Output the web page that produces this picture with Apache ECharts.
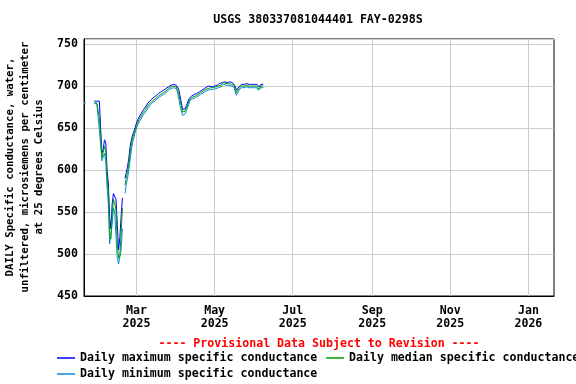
<!DOCTYPE html>
<html>
<head>
<meta charset="utf-8">
<script src="https://cdn.jsdelivr.net/npm/echarts@6/dist/echarts.min.js"></script>
<style>html,body{margin:0;padding:0;background:#fff}#c{width:576px;height:384px}</style>
</head>
<body>
<div id="c"></div>
<script>
// ---- data (daily values starting 2025-01-19) ----
const startDate = [2025, 0, 19];
const maxVals = [
  681, 681, null, null, null, null, null, null, 682, 682,
  682, 683, 682, 650, 620, 625, 636, 632, 600, 585,
  545, 530, 560, 572, 570, 565, 535, 505, 520, 545,
  567, null, 590, 597, 604, 614, 628, 636, 642, 646,
  651, 656, 660, 663, 665, 668, 671, 673, 675, 677,
  680, 682, 683, 685, 686, 687, 688, 690, 691, 692,
  693, 694, 695, 696, 697, 698, 699, 700, 701, 702,
  702, 702, 701, 699, 696, 688, 680, 672, 670, 673,
  677, 681, 685, 687, 688, 689, 690, 690, 691, 692,
  693, 694, 695, 696, 697, 698, 699, 699, 700, 700,
  699, 700, 700, 701, 701, 702, 703, 703, 704, 706,
  705, 705, 704, 705, 705, 704, 704, 703, 700, 695,
  697, 699, 701, 702, 702, 702, 702, 703, 702, 702,
  701, 702, 702, 702, 701, 702, 700, 699, 702, 702,
  702
];
const medVals = [
  680, 680, null, null, null, null, null, null, 680, 680,
  680, 681, 662, 640, 615, 617, 628, 622, 590, 575,
  525, 518, 548, 565, 560, 552, 512, 495, 498, 525,
  555, null, 582, 590, 597, 607, 620, 630, 638, 643,
  648, 653, 657, 660, 662, 665, 668, 670, 672, 674,
  677, 679, 680, 682, 683, 684, 685, 687, 688, 689,
  690, 691, 692, 693, 694, 695, 697, 698, 699, 700,
  700, 700, 699, 696, 691, 683, 676, 669, 667, 670,
  674, 678, 682, 685, 686, 687, 688, 688, 689, 690,
  691, 692, 693, 694, 695, 696, 697, 697, 698, 698,
  697, 698, 698, 699, 699, 700, 701, 701, 702, 704,
  703, 703, 702, 703, 703, 702, 702, 701, 697, 692,
  694, 697, 699, 700, 700, 700, 700, 701, 700, 700,
  699, 700, 700, 700, 699, 700, 698, 696, 700, 700,
  700
];
const minVals = [
  679, 679, null, null, null, null, null, null, 679, 679,
  679, 680, 648, 630, 611, 612, 620, 610, 580, 560,
  512, 514, 535, 555, 550, 520, 495, 488, 490, 505,
  530, null, 572, 583, 590, 600, 612, 624, 633, 639,
  645, 650, 654, 657, 659, 662, 665, 667, 669, 671,
  674, 676, 678, 680, 681, 682, 683, 685, 686, 687,
  688, 689, 690, 691, 692, 693, 695, 696, 697, 698,
  698, 698, 697, 693, 685, 677, 670, 665, 664, 667,
  671, 675, 679, 683, 684, 685, 686, 686, 687, 688,
  689, 690, 691, 692, 693, 694, 695, 695, 696, 696,
  695, 696, 696, 697, 697, 698, 699, 699, 700, 702,
  701, 701, 700, 701, 701, 700, 700, 699, 694, 689,
  691, 695, 697, 698, 698, 698, 698, 699, 698, 698,
  697, 698, 698, 698, 697, 698, 695, 693, 698, 698,
  698
];
const xTickDates = [[2025,2,1],[2025,4,1],[2025,6,1],[2025,8,1],[2025,10,1],[2026,0,1]];
const xTickLabels = ['Mar\n2025','May\n2025','Jul\n2025','Sep\n2025','Nov\n2025','Jan\n2026'];
const xRange = [[2025,0,19],[2026,0,21]];
const yTicks = {min: 450, max: 756, interval: 50};
const seriesNames = ['Daily maximum specific conductance','Daily median specific conductance','Daily minimum specific conductance'];
const titleText = 'USGS 380337081044401 FAY-0298S';
const provisionalText = '---- Provisional Data Subject to Revision ----';
const yAxisName = 'DAILY Specific conductance, water,\nunfiltered, microsiemens per centimeter\nat 25 degrees Celsius';

// ---- build ----
const FONT = "'DejaVu Sans Mono', monospace";
const utc = a => Date.UTC(a[0], a[1], a[2]);
const dayTs = i => Date.UTC(startDate[0], startDate[1], startDate[2] + i);
const toPairs = arr => arr.map((v, i) => [dayTs(i), v]);
const tickTs = xTickDates.map(utc);

const chart = echarts.init(document.getElementById('c'), null, {renderer: 'canvas'});
const mkSeries = (name, vals, color) => ({
  name, type: 'line', data: toPairs(vals), showSymbol: false, symbol: 'none',
  connectNulls: false, lineStyle: {color, width: 1}, itemStyle: {color}, z: 2
});
const legendBase = {
  icon: 'rect', itemWidth: 18, itemHeight: 1.5, itemGap: 8, padding: 0,
  textStyle: {fontFamily: FONT, fontWeight: 'bold', fontSize: 11.6, color: '#000'},
  itemStyle: {borderWidth: 0}
};
chart.setOption({
  animation: false,
  backgroundColor: '#fff',
  title: [
    {text: titleText, left: 313, top: 9, textAlign: 'center',
     textStyle: {fontFamily: FONT, fontWeight: 'bold', fontSize: 11.6, color: '#000'}},
    {text: provisionalText, left: 314, top: 333, textAlign: 'center',
     textStyle: {fontFamily: FONT, fontWeight: 'bold', fontSize: 11.6, color: '#ff0000'}}
  ],
  legend: [
    Object.assign({}, legendBase, {data: [seriesNames[0]], left: 57, top: 352}),
    Object.assign({}, legendBase, {data: [seriesNames[1]], left: 326, top: 352}),
    Object.assign({}, legendBase, {data: [seriesNames[2]], left: 57, top: 368})
  ],
  grid: {left: 84, right: 22, top: 39, bottom: 88, show: true, borderColor: '#000', borderWidth: 1, backgroundColor: 'transparent', containLabel: false},
  xAxis: {
    type: 'value', min: utc(xRange[0]), max: utc(xRange[1]),
    axisLine: {show: true, lineStyle: {color: '#000', width: 1}},
    axisTick: {show: false, customValues: tickTs},
    splitLine: {show: true, lineStyle: {color: '#cccccc', width: 1}},
    axisLabel: {
      customValues: tickTs, margin: 8, lineHeight: 13,
      fontFamily: FONT, fontWeight: 'bold', fontSize: 11.6, color: '#000',
      formatter: v => { const i = tickTs.indexOf(v); return i >= 0 ? xTickLabels[i] : ''; }
    }
  },
  yAxis: {
    type: 'value', min: yTicks.min, max: yTicks.max, interval: yTicks.interval,
    axisLine: {show: true, lineStyle: {color: '#000', width: 1}},
    axisTick: {show: false},
    splitLine: {show: true, lineStyle: {color: '#cccccc', width: 1}},
    axisLabel: {showMaxLabel: false, margin: 6, fontFamily: FONT, fontWeight: 'bold', fontSize: 11.6, color: '#000'}
  },
  graphic: [{
    type: 'text', x: 25, y: 167, rotation: Math.PI / 2,
    style: {text: yAxisName, fontFamily: FONT, fontWeight: 'bold', fontSize: 10.7, lineHeight: 14.5,
      fill: '#000', align: 'center', verticalAlign: 'middle'}
  }],
  series: [
    mkSeries(seriesNames[0], maxVals, '#0000ff'),
    mkSeries(seriesNames[2], minVals, '#0a8ad8'),
    mkSeries(seriesNames[1], medVals, '#00a000')
  ]
});
</script>
</body>
</html>
